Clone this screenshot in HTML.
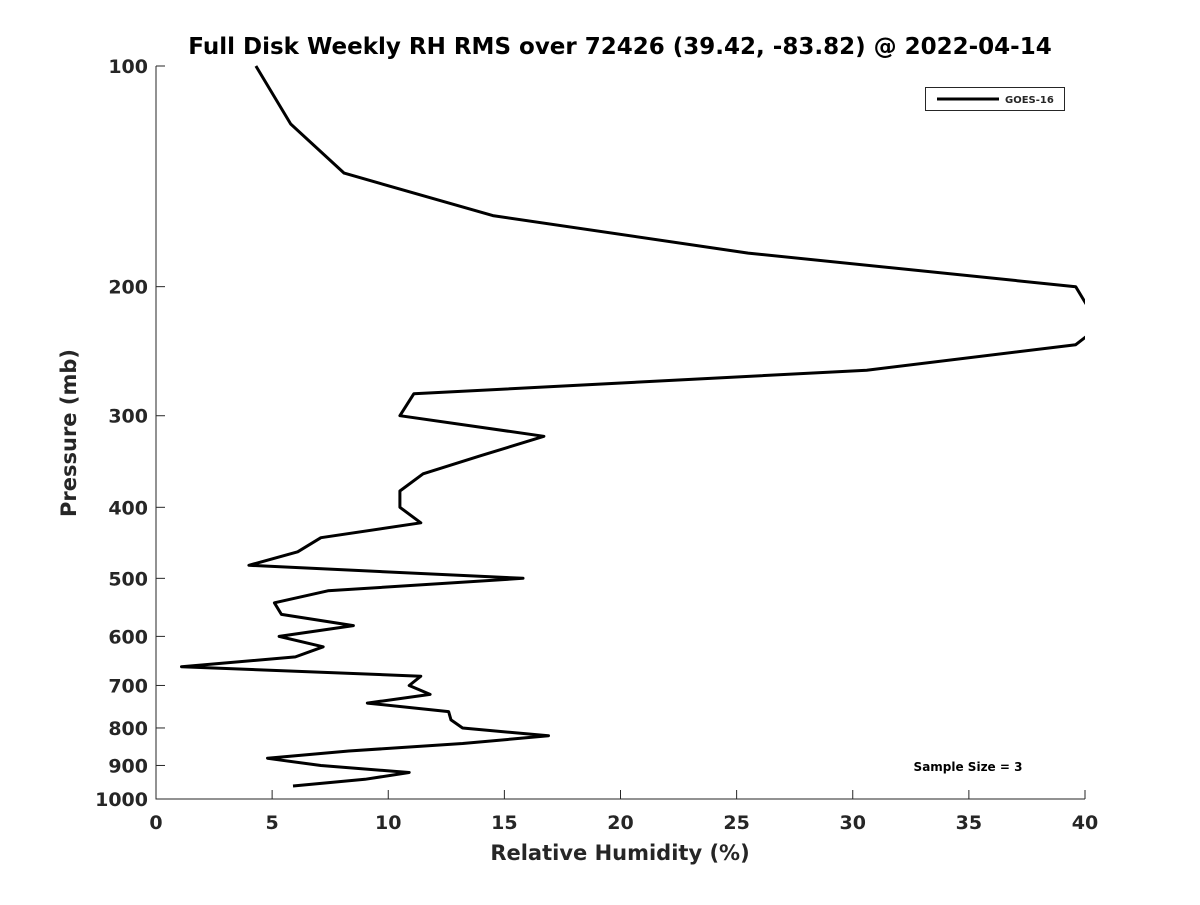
<!DOCTYPE html>
<html><head><meta charset="utf-8"><style>
body{margin:0;background:#fff;}
text{font-family:"DejaVu Sans","Liberation Sans",sans-serif;font-weight:bold;fill:#262626;}
</style></head><body>
<svg id="chart" width="1200" height="900" xmlns="http://www.w3.org/2000/svg">
<text x="620" y="54" font-size="23" text-anchor="middle" fill="#000" style="fill:#000">Full Disk Weekly RH RMS over 72426 (39.42, -83.82) @ 2022-04-14</text>
<g id="axes"></g>
<g id="plot"></g>
<text x="620" y="860" font-size="21" text-anchor="middle">Relative Humidity (%)</text>
<text transform="translate(76,433) rotate(-90)" font-size="21" text-anchor="middle">Pressure (mb)</text>
<g>
<rect x="925.5" y="87.5" width="139" height="23" fill="#fff" stroke="#262626"/>
<line x1="937" y1="99" x2="999" y2="99" stroke="#000" stroke-width="3"/>
<text x="1005" y="103" font-size="10">GOES-16</text>
</g>
<text x="968" y="771" font-size="12" text-anchor="middle" style="fill:#000">Sample Size = 3</text>
</svg>
<script>
const pressures=[100,120,140,160,180,200,215,232,240,260,280,300,320,340,360,380,400,420,440,460,480,500,520,540,560,580,600,620,640,660,680,700,720,740,760,780,800,820,840,860,880,900,920,940,960];
const rhValues=[4.3,5.8,8.1,14.5,25.5,39.6,40.2,40.2,39.6,30.6,11.1,10.5,16.7,14.0,11.5,10.5,10.5,11.4,7.1,6.1,4.0,15.8,7.4,5.1,5.4,8.5,5.3,7.2,6.0,1.1,11.4,10.9,11.8,9.1,12.6,12.7,13.2,16.9,13.2,8.3,4.8,7.1,10.9,9.0,5.9];
const xTicks=[0,5,10,15,20,25,30,35,40];
const yTicks=[100,200,300,400,500,600,700,800,900,1000];
const X0=156,X1=1085,Y0=66,Y1=799;
const xs=v=>X0+(v/40)*(X1-X0);
const ys=p=>Y0+(Math.log10(p)-2)*(Y1-Y0);
const NS="http://www.w3.org/2000/svg";
const axes=document.getElementById('axes'),plot=document.getElementById('plot');
function mk(tag,attrs,parent){const e=document.createElementNS(NS,tag);for(const k in attrs)e.setAttribute(k,attrs[k]);parent.appendChild(e);return e;}
let ax=mk('path',{d:`M${X0},${Y0}V${Y1}H${X1}`,fill:'none',stroke:'#262626','stroke-width':1},axes);


xTicks.forEach(v=>{const x=xs(v);
 const t=mk('line',{x1:x,x2:x,y1:Y1,y2:Y1-9,stroke:'#262626'},axes);
 
 
 const l=mk('text',{x:x,y:Y1+30,'font-size':19,'text-anchor':'middle'},axes);l.textContent=v;
 
 
});
yTicks.forEach(p=>{const y=ys(p);
 const t=mk('line',{x1:X0,x2:X0+9,y1:y,y2:y,stroke:'#262626'},axes);
 
 
 const l=mk('text',{x:X0-8,y:y+7,'font-size':19,'text-anchor':'end'},axes);l.textContent=p;
 
 
});
const cp=mk('clipPath',{id:'clip'},plot);mk('rect',{x:X0,y:Y0-2,width:X1-X0,height:Y1-Y0+4},cp);
const d=pressures.map((p,i)=>(i?'L':'M')+xs(rhValues[i]).toFixed(1)+','+ys(p).toFixed(1)).join('');
const line=mk('path',{d:d,fill:'none',stroke:'#000','stroke-width':3,'clip-path':'url(#clip)','stroke-linejoin':'round'},plot);


</script>
</body></html>
